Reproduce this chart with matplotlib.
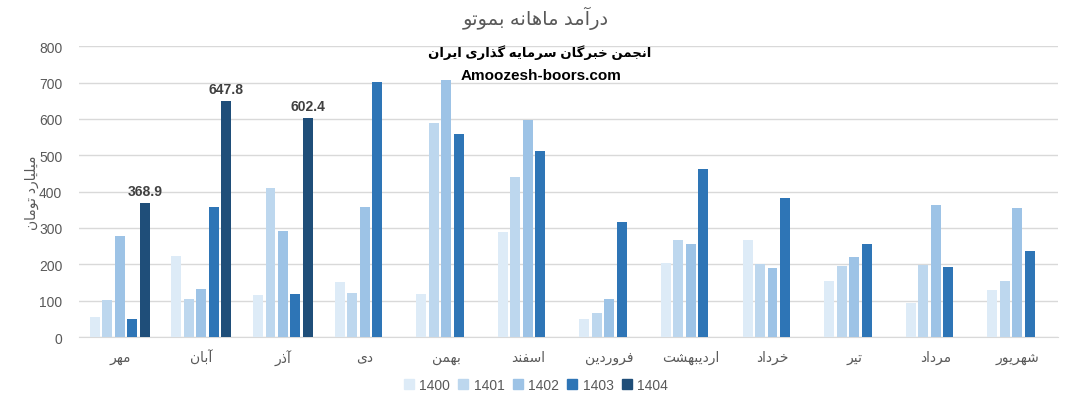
import numpy as np
import matplotlib
matplotlib.use("Agg")
import matplotlib.pyplot as plt
from matplotlib.patches import Patch

# ---- data ----
months = ["مهر", "آبان", "آذر", "دی", "بهمن", "اسفند",
          "فروردین", "اردیبهشت", "خرداد", "تیر", "مرداد", "شهریور"]
years = ["1400", "1401", "1402", "1403", "1404"]
v1400 = [55, 222, 115, 151, 118, 288, 49, 203, 267, 153, 93, 129]
v1401 = [101, 104, 410, 120, 589, 440, 65, 267, 200, 195, 197, 153]
v1402 = [277, 131, 291, 357, 707, 597, 104, 256, 190, 220, 363, 355]
v1403 = [49, 357, 118, 702, 558, 512, 317, 463, 383, 255, 192, 236]
v1404 = [368.9, 647.8, 602.4] + [np.nan] * 9
series = [v1400, v1401, v1402, v1403, v1404]
COLORS = ["#DDEBF7", "#BDD7EE", "#9DC3E6", "#2E75B6", "#1F4E79"]

TITLE = "درآمد ماهانه بموتو"
WATERMARK = "انجمن خبرگان سرمایه گذاری ایران"
YLABEL = "میلیارد تومان"

# ---- minimal Persian shaping (matplotlib has no bidi/shaping) ----
FORMS = {  # isolated, final, initial, medial
    "ا": ("\uFE8D", "\uFE8E"), "آ": ("\uFE81", "\uFE82"),
    "د": ("\uFEA9", "\uFEAA"), "ذ": ("\uFEAB", "\uFEAC"),
    "ر": ("\uFEAD", "\uFEAE"), "ز": ("\uFEAF", "\uFEB0"),
    "و": ("\uFEED", "\uFEEE"),
    "ب": ("\uFE8F", "\uFE90", "\uFE91", "\uFE92"),
    "ت": ("\uFE95", "\uFE96", "\uFE97", "\uFE98"),
    "ج": ("\uFE9D", "\uFE9E", "\uFE9F", "\uFEA0"),
    "خ": ("\uFEA5", "\uFEA6", "\uFEA7", "\uFEA8"),
    "س": ("\uFEB1", "\uFEB2", "\uFEB3", "\uFEB4"),
    "ش": ("\uFEB5", "\uFEB6", "\uFEB7", "\uFEB8"),
    "ف": ("\uFED1", "\uFED2", "\uFED3", "\uFED4"),
    "ل": ("\uFEDD", "\uFEDE", "\uFEDF", "\uFEE0"),
    "م": ("\uFEE1", "\uFEE2", "\uFEE3", "\uFEE4"),
    "ن": ("\uFEE5", "\uFEE6", "\uFEE7", "\uFEE8"),
    "ه": ("\uFEE9", "\uFEEA", "\uFEEB", "\uFEEC"),
    "ی": ("\uFBFC", "\uFBFD", "\uFBFE", "\uFBFF"),
    "گ": ("\uFB92", "\uFB93", "\uFB94", "\uFB95"),
}


def fa(text):
    out = []
    for i, ch in enumerate(text):
        if ch not in FORMS:
            out.append(ch)
            continue
        prev = text[i - 1] if i > 0 else ""
        nxt = text[i + 1] if i + 1 < len(text) else ""
        jp = prev in FORMS and len(FORMS[prev]) == 4
        jn = len(FORMS[ch]) == 4 and nxt in FORMS
        f = FORMS[ch]
        if jp and jn:
            out.append(f[3])
        elif jp:
            out.append(f[1])
        elif jn:
            out.append(f[2])
        else:
            out.append(f[0])
    return "".join(out)[::-1]


FONT = ["Liberation Sans", "DejaVu Sans"]
plt.rcParams["font.family"] = FONT
GRAY = "#595959"

fig = plt.figure(figsize=(10.72, 4.10), dpi=100)
ax = fig.add_axes([0.0737, 0.1756, 0.9133, 0.7094])

x = np.arange(len(months))
step, width = 0.153, 0.122
for i, (vals, col, yr) in enumerate(zip(series, COLORS, years)):
    ax.bar(x + (i - 2) * step, vals, width, color=col, label=yr, zorder=3)

# labels on the 1404 bars
for xi, v in zip(x, v1404):
    if not np.isnan(v):
        ax.text(xi + 2 * step, v + 14, f"{v:.1f}", ha="center", va="bottom",
                fontsize=10, fontweight="bold", color="#404040")

ax.set_xlim(-0.5, len(months) - 0.5)
ax.set_ylim(0, 800)
ax.set_yticks(range(0, 801, 100))
ax.grid(axis="y", color="#D9D9D9", linewidth=1, zorder=0)
ax.set_xticks(x)
ax.set_xticklabels([fa(m) for m in months], fontsize=10, color=GRAY)
ax.tick_params(axis="x", length=0, pad=9)
ax.tick_params(axis="y", length=0, labelsize=10, labelcolor=GRAY, pad=12)
for s in ["top", "right", "left"]:
    ax.spines[s].set_visible(False)
ax.spines["bottom"].set_color("#D9D9D9")
ax.set_ylabel(fa(YLABEL), fontsize=10, color=GRAY, labelpad=0)

fig.text(0.5, 0.955, fa(TITLE), ha="center", va="center", fontsize=14, color=GRAY)
fig.text(0.503, 0.871, fa(WATERMARK), ha="center", va="center",
         fontsize=9.5, fontweight="bold", color="black")
fig.text(0.505, 0.815, "Amoozesh-boors.com", ha="center", va="center",
         fontsize=11, fontweight="bold", color="black")

handles = [Patch(color=c, label=y) for c, y in zip(COLORS, years)]
fig.legend(handles=handles, loc="center", bbox_to_anchor=(0.5, 0.058), ncol=5,
           frameon=False, fontsize=10, handlelength=0.7, handleheight=0.7,
           handletextpad=0.4, columnspacing=0.6, labelcolor=GRAY)

fig.savefig("out.png", dpi=100)
